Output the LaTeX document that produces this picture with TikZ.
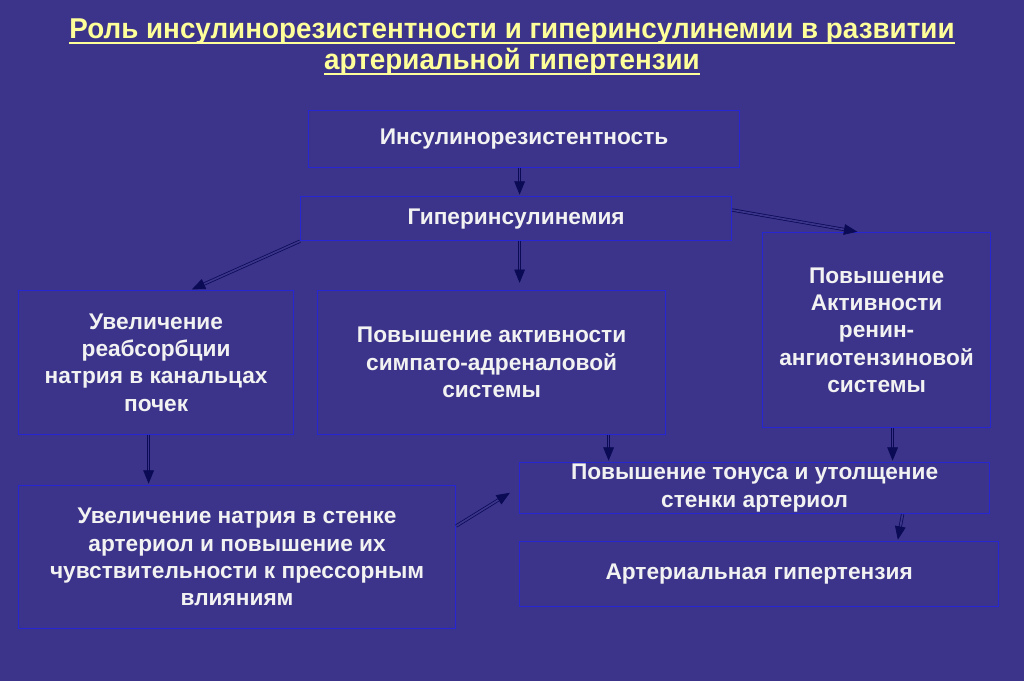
\documentclass[tikz,border=0pt]{standalone}
\usepackage{fontspec}
\setmainfont{Liberation Sans}
\newfontfamily\titlefont[FakeStretch=0.97]{Liberation Sans}
\usepackage{tikz}
\usetikzlibrary{positioning, arrows.meta}
\definecolor{slidebg}{HTML}{3B348A}
\definecolor{boxline}{HTML}{2626D2}
\definecolor{arrowcol}{HTML}{0A0A55}
\definecolor{titlecol}{HTML}{FFFF99}
\definecolor{textcol}{HTML}{F2F2F2}
\newcommand{\px}{0.75pt}
\newcommand{\titleline}[1]{\setbox0\hbox{#1}%
  \rlap{\raisebox{-4pt}{\rule{\wd0}{1.7pt}}}\box0}

\begin{document}
\begin{tikzpicture}[
  x=0.75pt, y=-0.75pt,
  >=Stealth,
  box/.style={draw=boxline, line width=0.9pt, fill=slidebg, text=textcol,
    font=\bfseries\fontsize{17}{20.5}\selectfont, align=center,
    inner sep=0pt, anchor=north west},
  heading/.style={text=titlecol, font=\titlefont\bfseries\fontsize{21.5}{25}\selectfont,
    anchor=base, inner sep=0pt},
  link/.style={draw=arrowcol, line width=0.55pt, double=slidebg,
    double distance=1.3pt, shorten >=1pt,
    -{Triangle[length=10pt,width=8pt,fill=arrowcol]}}
]
  \useasboundingbox[fill=slidebg] (0,0) rectangle (1024,681);

  % заголовок
  \node[heading] (title) at (512,39)
    {\titleline{Роль инсулинорезистентности и гиперинсулинемии в развитии}};
  \node[heading] (subtitle) at (512,70)
    {\titleline{артериальной гипертензии}};

  \node[box, minimum width=431*\px, minimum height=57*\px] (insres) at (308,110)
    {Инсулинорезистентность};
  \node[box, minimum width=431*\px, minimum height=44*\px] (hyper) at (300,196)
    {Гиперинсулинемия};
  \node[box, minimum width=275*\px, minimum height=144*\px] (reabs) at (18,290)
    {Увеличение\\реабсорбции\\натрия в канальцах\\почек};
  \node[box, minimum width=348*\px, minimum height=144*\px] (sympat) at (317,290)
    {Повышение активности\\симпато-адреналовой\\системы};
  \node[box, minimum width=228*\px, minimum height=195*\px] (renin) at (762,232)
    {Повышение\\Активности\\ренин-\\ангиотензиновой\\системы};
  \node[box, minimum width=470*\px, minimum height=51*\px] (tonus) at (519,462)
    {Повышение тонуса и утолщение\\стенки артериол};
  \node[box, minimum width=479*\px, minimum height=65*\px] (hypert) at (519,541)
    {Артериальная гипертензия};
  \node[box, minimum width=437*\px, minimum height=143*\px] (sodium) at (18,485)
    {Увеличение натрия в стенке\\артериол и повышение их\\чувствительности к прессорным\\влияниям};

  \draw[link] ([xshift=-4.5*\px]insres.south) -- ([xshift=3.5*\px]hyper.north);
  \draw[link] ([xshift=3.5*\px]hyper.south) -- ++(0,43);
  \draw[link] (hyper.south west) -- ([xshift=34.5*\px]reabs.north);
  \draw[link] ([yshift=-14*\px]hyper.north east) -- ([xshift=-18*\px]renin.north);
  \draw[link] ([xshift=-7.5*\px]reabs.south) -- ([xshift=-88.5*\px]sodium.north);
  \draw[link] ([xshift=117*\px]sympat.south) -- ([xshift=-146*\px]tonus.north);
  \draw[link] ([xshift=16*\px]renin.south) -- ([xshift=138*\px]tonus.north);
  \draw[link] ([yshift=-41*\px]sodium.north east) -- ([xshift=-8*\px,yshift=-4*\px]tonus.west);
  \draw[link] ([xshift=148*\px]tonus.south) -- ([xshift=138.5*\px]hypert.north);
\end{tikzpicture}
\end{document}
